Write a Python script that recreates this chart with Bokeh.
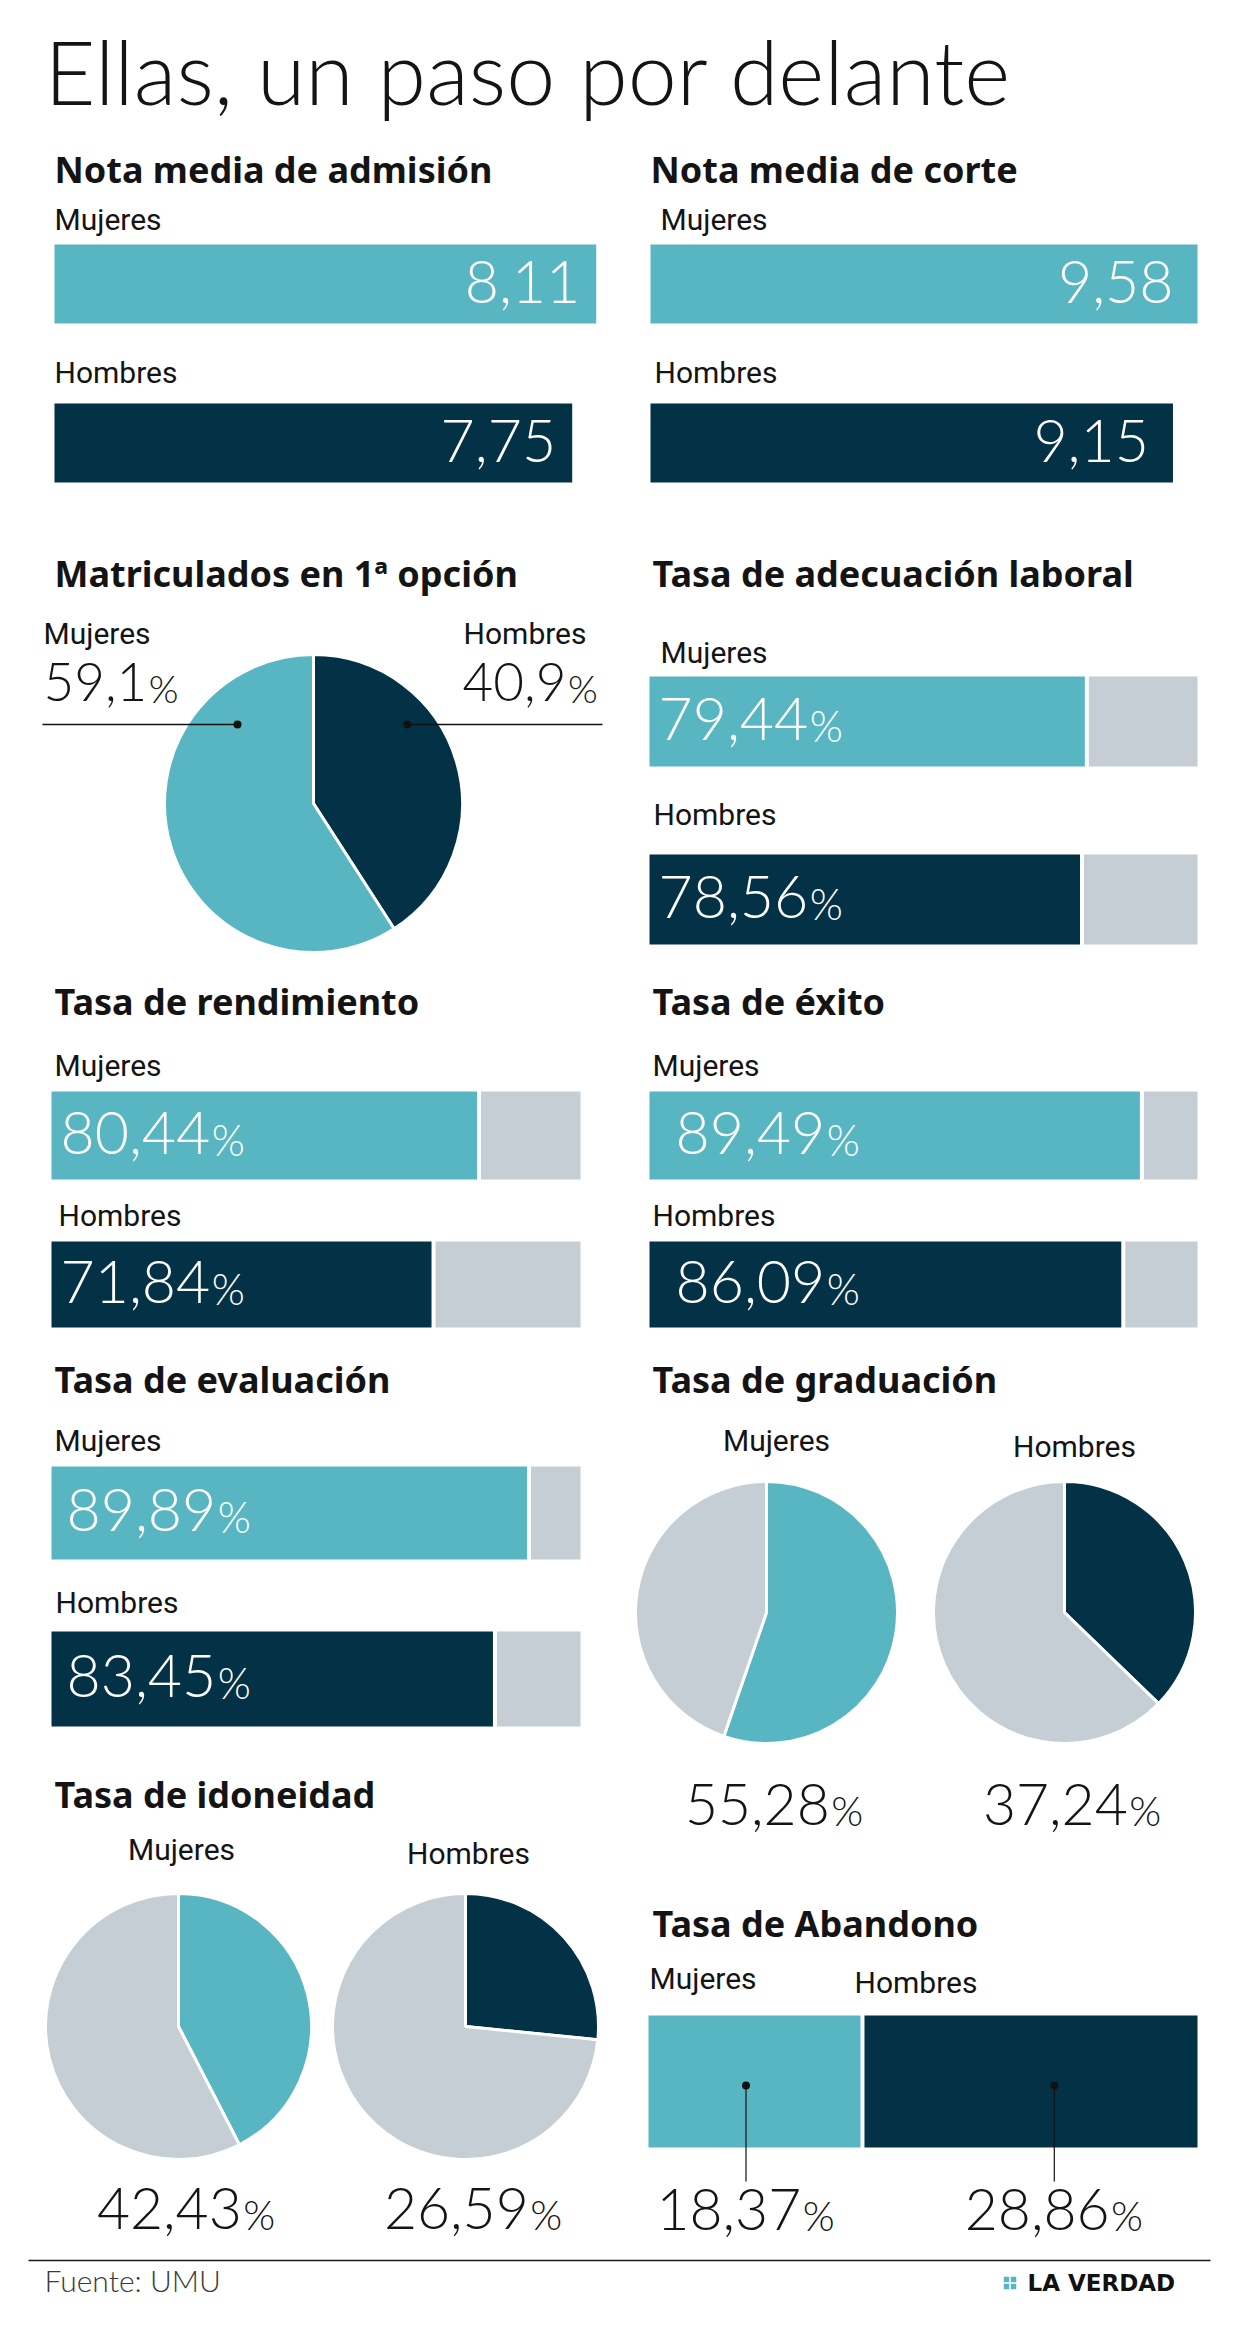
import math
from bokeh.plotting import figure
from bokeh.models import Range1d
from bokeh.core.properties import value
from bokeh.embed import file_html
from bokeh.resources import INLINE

# ---------------- data ----------------
TITLE = "Ellas, un paso por delante"
GROUPS = ["Mujeres", "Hombres"]
NOTA_ADMISION = [8.11, 7.75]
NOTA_CORTE = [9.58, 9.15]
MATRICULADOS = [59.1, 40.9]
ADECUACION = [79.44, 78.56]
RENDIMIENTO = [80.44, 71.84]
EXITO = [89.49, 86.09]
EVALUACION = [89.89, 83.45]
GRADUACION = [55.28, 37.24]
IDONEIDAD = [42.43, 26.59]
ABANDONO = [18.37, 28.86]
SOURCE = "Fuente: UMU"
BRAND = "LA VERDAD"

# ---------------- style ----------------
TEAL = "#58b6c3"
NAVY = "#033146"
GREY = "#c5ced4"
INK = "#141414"
COLORS = [TEAL, NAVY]
HEAD_FONT = "Noto Sans"
LABEL_FONT = "Roboto"
LIGHT_FONT = "Lato Light, Lato"
BRAND_FONT = "DejaVu Sans"
# em offset between text anchor and alphabetic baseline as rendered
BASE_K = {HEAD_FONT: 0.388, LABEL_FONT: 0.342, LIGHT_FONT: 0.387, BRAND_FONT: 0.346}

W, H = 1228, 2320
p = figure(width=W, height=H, x_range=Range1d(2, W + 2), y_range=Range1d(0, H),
           x_axis_type=None, y_axis_type=None, toolbar_location=None,
           output_backend="svg", min_border=0, outline_line_color=None,
           background_fill_color="white", border_fill_color="white")


def Y(y):
    return H - y


def txt(x, y, s, size, font, color=INK, align="left", style="normal"):
    yy = y - BASE_K.get(font, 0.37) * size
    p.text(x=[x], y=[Y(yy)], text=[s], text_font=value(font),
           text_font_size=f"{size}px", text_color=color, text_align=align,
           text_baseline="alphabetic", text_font_style=style)


def fmt(v, d=2):
    return f"{v:.{d}f}".replace(".", ",")


def est(s, size):
    return sum(0.58 if c.isdigit() else 0.21 for c in s) * size


def pct_label(x, yb, v, size, color, align="left", d=2):
    num = fmt(v, d)
    w = est(num, size)
    ps = size * 0.72
    pw = 0.8 * ps
    total = w + 2 + pw
    if align == "left":
        left = x
    elif align == "center":
        left = x - total / 2
    else:
        left = x - total
    txt(left, yb, num, size, LIGHT_FONT, color)
    txt(left + w + 2, yb, "%", round(ps, 1), LIGHT_FONT, color)


def heading(x, yb, s):
    txt(x, yb, s, 36, HEAD_FONT, INK, style="bold")


def label(x, yb, s, align="left"):
    txt(x, yb, s, 30, LABEL_FONT, INK, align=align)


def pie(cx, cy, r, parts):
    start = math.pi / 2
    for frac, col in parts:
        end = start - frac * 2 * math.pi
        p.wedge(x=[cx], y=[Y(cy)], radius=r, start_angle=start, end_angle=end,
                direction="clock", fill_color=col, line_color="white", line_width=3)
        start = end


# ---------------- title ----------------
txt(46, 105, TITLE, 88, LIGHT_FONT, INK)

# ---------------- Nota media (absolute bars) ----------------
def nota_panel(x0, px_per_unit, head, vals, label_xs, pad):
    heading(x0, 183, head)
    label_base = [229, 382]
    bars = [(244, 323), (403, 482)]
    for i, v in enumerate(vals):
        label(label_xs[i], label_base[i], GROUPS[i])
        top, bot = bars[i]
        right = x0 + v * px_per_unit
        p.quad(left=[x0], right=[right], top=[Y(top)], bottom=[Y(bot)],
               fill_color=COLORS[i], line_color=None)
        txt(right - pad, (top + bot) / 2 + 21, fmt(v), 59, LIGHT_FONT, "white", align="right")


nota_panel(56, 66.8, "Nota media de admisión", NOTA_ADMISION, [56, 56], 16)
nota_panel(652, 57.1, "Nota media de corte", NOTA_CORTE, [662, 656], 24)

# ---------------- Percentage bars ----------------
def pct_panel(x0, width, head, head_base, vals, label_pos, bars, val_x):
    heading(x0 + 3, head_base, head)
    for i, v in enumerate(vals):
        lx, lb = label_pos[i]
        label(lx, lb, GROUPS[i])
        top, bot = bars[i]
        end = x0 + width * v / 100.0
        p.quad(left=[end + 4], right=[x0 + width], top=[Y(top)], bottom=[Y(bot)],
               fill_color=GREY, line_color=None)
        p.quad(left=[x0], right=[end], top=[Y(top)], bottom=[Y(bot)],
               fill_color=COLORS[i], line_color=None)
        pct_label(val_x, (top + bot) / 2 + 20, v, 59, "white", "left")


pct_panel(651, 548, "Tasa de adecuación laboral", 587, ADECUACION,
          [(662, 662), (655, 824)], [(676, 766), (854, 944)], 660)
pct_panel(53, 529, "Tasa de rendimiento", 1015, RENDIMIENTO,
          [(56, 1075), (60, 1225)], [(1091, 1179), (1241, 1327)], 62)
pct_panel(651, 548, "Tasa de éxito", 1015, EXITO,
          [(654, 1075), (654, 1225)], [(1091, 1179), (1241, 1327)], 677)
pct_panel(53, 529, "Tasa de evaluación", 1393, EVALUACION,
          [(56, 1450), (57, 1612)], [(1466, 1559), (1631, 1726)], 68)

# ---------------- Matriculados en 1a opción ----------------
heading(56, 587, "Matriculados en 1ª opción")
mcx, mcy, mr = 315, 803, 149
pie(mcx, mcy, mr, [(MATRICULADOS[1] / 100, NAVY), (MATRICULADOS[0] / 100, TEAL)])
label(45, 643, GROUPS[0])
label(588, 643, GROUPS[1], align="right")
pct_label(45, 702, MATRICULADOS[0], 53, INK, "left", d=1)
pct_label(600, 702, MATRICULADOS[1], 53, INK, "right", d=1)
ly = mcy - 0.53 * mr
p.segment(x0=[44, mcx + 0.63 * mr], y0=[Y(ly), Y(ly)], x1=[mcx - 0.51 * mr, 604], y1=[Y(ly), Y(ly)],
          line_color="#111111", line_width=1.5)
p.scatter(x=[mcx - 0.51 * mr, mcx + 0.63 * mr], y=[Y(ly), Y(ly)], size=8,
          fill_color="#111111", line_color=None)

# ---------------- Tasa de graduación ----------------
heading(654, 1393, "Tasa de graduación")
for i, (cx, lb) in enumerate([(768, 1450), (1066, 1456)]):
    v = GRADUACION[i]
    label(cx + 10, lb, GROUPS[i], align="center")
    pie(cx, 1612, 131, [(v / 100, COLORS[i]), (1 - v / 100, GREY)])
    pct_label(cx + 8, 1826, v, 57, INK, "center")

# ---------------- Tasa de idoneidad ----------------
heading(56, 1808, "Tasa de idoneidad")
for i, (cx, lb) in enumerate([(180, 1859), (467, 1863)]):
    v = IDONEIDAD[i]
    label(cx + 3, lb, GROUPS[i], align="center")
    pie(cx, 2026, 133, [(v / 100, COLORS[i]), (1 - v / 100, GREY)])
    pct_label(cx + 8, 2230, v, 57, INK, "center")

# ---------------- Tasa de abandono ----------------
heading(654, 1937, "Tasa de Abandono")
ax0, ax1, atop, abot = 650, 1199, 2015, 2147
tot = sum(ABANDONO)
span = ax1 - ax0 - 4
seg_l = [ax0, ax0 + span * ABANDONO[0] / tot + 4]
seg_r = [ax0 + span * ABANDONO[0] / tot, ax1]
dot_frac = [0.46, 0.57]
label_xs = [651, seg_l[1] - 10]
label_bs = [1988, 1992]
for i, v in enumerate(ABANDONO):
    p.quad(left=[seg_l[i]], right=[seg_r[i]], top=[Y(atop)], bottom=[Y(abot)],
           fill_color=COLORS[i], line_color=None)
    label(label_xs[i], label_bs[i], GROUPS[i])
    mx = seg_l[i] + dot_frac[i] * (seg_r[i] - seg_l[i])
    p.segment(x0=[mx], y0=[Y(2085)], x1=[mx], y1=[Y(2181)], line_color="#111111", line_width=1.2)
    p.scatter(x=[mx], y=[Y(2085)], size=8, fill_color="#111111", line_color=None)
    pct_label(mx, 2231, v, 57, INK, "center")

# ---------------- footer ----------------
p.segment(x0=[30], y0=[Y(2260)], x1=[1212], y1=[Y(2260)], line_color="#1a1a1a", line_width=1.5)
txt(46, 2291, SOURCE, 30, LIGHT_FONT, "#3b3a36")
p.rect(x=[1008, 1015, 1008, 1015], y=[Y(2279), Y(2279), Y(2286), Y(2286)], width=5.5, height=5.5,
       fill_color=TEAL, line_color=None)
txt(1029, 2290, BRAND, 23, BRAND_FONT, "#111111", style="bold")

open("out.html", "w").write(file_html(p, INLINE))
